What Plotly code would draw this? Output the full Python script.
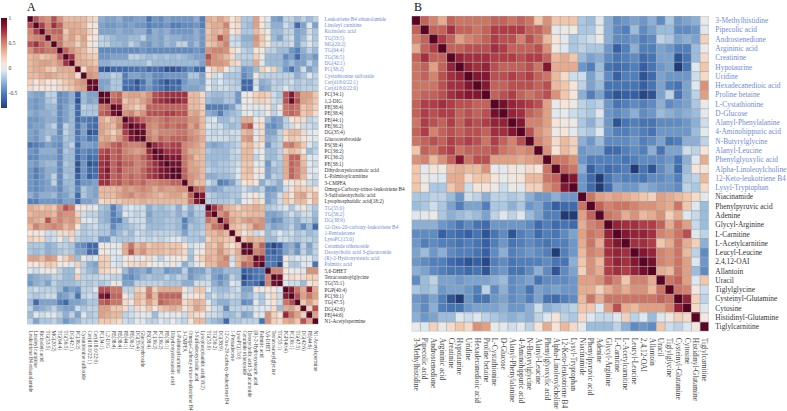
import plotly.graph_objects as go

A_LABELS = ["Leukotriene B4 ethanolamide","Linoleyl carnitine","Ricinoleic acid","TG(53:5)","MG(20:2)","TG(64:4)","TG(56:5)","DG(42:1)","PC(38:2)","Cystathionine sulfoxide","Cer(d18:0/22:1)","Cer(d18:0/22:0)","PC(34:1)","1,2-DIG","PE(38:4)","PE(38:4)","PE(44:1)","PE(36:2)","DG(35:4)","Glucocerebroside","PS(38:4)","PC(36:2)","PC(36:2)","PE(38:1)","Dihydroxyeicosanoic acid","L-Palmitoylcarnitine","3-CMPFA","Omega-Carboxy-trinor-leukotriene B4","3-Sulfodeoxycholic acid","Lysophosphatidic acid(18:2)","TG(55:0)","TG(56:2)","DG(38:9)","12-Oxo-20-carboxy-leukotriene B4","1-Pentadecene","LysoPC(15:0)","Ceramide trihexoside","Deoxycholic acid 3-glucuronide","(R)-2-Hydroxystearic acid","Palmitic acid","5,6-DHET","Tetracosanoylglycine","TG(55:1)","PGP(40:4)","PC(36:1)","TG(47:5)","DG(42:6)","PE(44:6)","N1-Acetylspermine"]
A_BLUE = list(range(0, 12)) + list(range(30, 40))

B_LABELS = ["3-Methylhistidine","Pipecolic acid","Androstenedione","Argininic acid","Creatinine","Hypotaurine","Uridine","Hexadecanedioic acid","Proline betaine","L-Cystathionine","D-Glucose","Alanyl-Phenylalanine","4-Aminohippuric acid","N-Butyrylglycine","Alanyl-Leucine","Phenylglyoxylic acid","Alpha-Linoleoylcholine","12-Keto-leukotriene B4","Lysyl-Tryptophan","Niacinamide","Phenylpyruvic acid","Adenine","Glycyl-Arginine","L-Carnitine","L-Acetylcarnitine","Leucyl-Leucine","2,4,12-OAI","Allantoin","Uracil","Tiglylglycine","Cysteinyl-Glutamine","Cytosine","Histidinyl-Glutamine","Tiglylcarnitine"]
B_BLUE = list(range(0, 19))

# Upper triangles of the correlation matrices, in hundredths, row by row
A_UPPER = [
[100,65,50,45,65,45,30,30,30,30,20,15, -30,-35,-35,-30,-40,-40,-35,-35,-55,-40,-45,-35,-40,-40,-40,-40,-30,-50, 35,30,40,30,10,20,-20,-20,40,10,-5,-35,-40,-15,-15,-25,-15,-25,-15],
[100,70,50,75,60,35,35,35,30,10,5, -35,-40,-40,-35,-40,-35,-40,-40,-50,-45,-45,-40,-50,-50,-45,-45,-40,-50, 30,35,35,50,10,15,-20,-25,40,10,-10,-30,-30,-10,-20,-60,-35,-5,-35],
[100,55,60,60,25,40,35,35,20,10, -35,-35,-35,-30,-35,-35,-30,-30,-45,-30,-35,-30,-40,-40,-40,-40,-30,-40, 25,35,30,40,5,15,-20,-20,30,15,0,-25,-25,-15,-15,-35,-30,-10,-20],
[100,50,55,30,40,25,40,10,10, -15,-20,-25,-30,-30,-25,-25,-15,-35,-30,-35,-25,-30,-30,-35,-35,-30,-40, 30,35,65,45,-10,-15,-30,-30,45,25,5,-25,-35,-15,-10,-35,-25,-5,-20],
[100,55,35,35,20,35,10,0, -15,-15,-25,-25,-30,-15,-25,-35,-40,-30,-35,-25,-30,-15,-15,-35,-25,-40, 25,30,40,50,-10,-10,-25,-25,40,20,5,-15,-15,-15,-10,-35,-15,-5,-15],
[100,60,45,35,30,15,15, -45,-45,-45,-45,-45,-45,-45,-40,-45,-45,-45,-45,-45,-45,-45,-45,-40,-45, 45,50,50,45,15,5,-15,-20,10,5,-15,-15,-25,-25,-40,-50,-30,-15,-25],
[100,75,35,30,25,20, -40,-40,-35,-35,-35,-15,-15,-20,-25,-20,-25,-20,-25,-20,-25,-30,-35,-35, 65,45,40,30,15,-15,-15,-15,20,5,-25,-25,-25,-45,-35,-60,-35,-30,-40],
[100,35,35,30,25, -30,-30,-25,-25,-25,-25,-25,-25,-15,-25,-25,-25,-25,-25,-25,-25,-25,-35, 55,45,45,40,20,15,-20,-20,35,-5,-25,-25,-25,-35,-25,-35,-35,-15,-30],
[100,15,40,35, -65,-70,-60,-60,-60,-55,-55,-50,-60,-55,-60,-70,-70,-65,-55,-45,-60,-60, 5,20,30,10,-10,-15,-40,-35,-25,20,5,20,-20,-40,-55,-35,-10,-35,-25],
[100,45,40, -25,-25,-15,-20,-50,-35,-35,-40,-35,-45,-45,-40,-40,-40,-40,-20,-20,-35, 10,-10,-5,-20,-20,-20,-45,-35,5,-15,-15,-15,-15,-15,-15,-30,-20,-5,-15],
[100,90, -35,-35,-20,-20,-55,-55,-70,-55,-35,-50,-60,-70,-60,-65,-40,-30,-30,-35, -5,-15,-5,-15,-15,-20,-60,-60,-10,-30,-25,-15,-20,-15,-10,-20,-15,-20,-15],
[100, -35,-30,-20,-20,-60,-60,-65,-50,-40,-50,-55,-65,-60,-55,-35,-35,-35,-30, 0,-15,-10,-10,-15,-15,-60,-60,-5,-35,-30,-15,-15,-5,-15,-20,-15,-15,-15],
[100,95,55,60,35,40,40,35,45,65,70,75,75,75,75,30,30,15, -20,-25,-25,-20,-20,-40,0,5,20,25,20,-10,-20,65,85,60,40,40,25],
[100,60,65,25,35,30,40,50,70,75,80,85,80,75,30,30,20, -25,-30,-30,-20,-20,-40,0,5,20,20,15,-10,-15,65,95,65,40,35,25],
[100,90,35,30,20,30,60,60,60,60,60,60,60,30,30,20, -50,-50,-50,-45,-35,-15,0,-5,-5,-5,10,-15,5,55,60,55,25,30,20],
[100,45,50,35,45,65,65,65,70,70,65,65,35,40,25, -30,-35,-50,-30,-25,-20,-5,0,-10,-10,5,-15,-5,55,60,55,25,30,15],
[100,80,70,60,55,50,55,60,55,55,55,45,45,30, -10,-5,-25,-25,-15,-20,35,35,0,5,-25,-40,-35,-15,10,15,15,-15,-10],
[100,90,85,50,45,55,60,55,60,60,40,50,30, -5,-10,-10,-20,-25,-20,55,65,10,15,-40,-45,-35,-15,-10,10,-10,-10,-15],
[100,95,50,40,50,50,50,55,55,45,40,30, -10,-15,-10,-15,-10,-10,30,35,-5,15,-35,-35,-15,20,30,30,15,-5,0],
[100,55,45,60,55,60,60,60,50,45,35, -10,-10,-10,-10,-15,-10,40,45,0,20,-30,-25,-15,15,25,20,10,0,-5],
[100,78,72,65,70,70,50,45,40,30, -30,-35,-30,-25,-20,-15,25,30,15,5,-40,-20,-15,50,55,40,25,-5,-15],
[100,90,75,75,75,50,35,35,30, -20,-25,-25,-25,-15,-10,30,30,-5,0,-25,-25,-15,20,30,25,5,-25,-15],
[100,88,85,85,55,45,30,30, -25,-25,-25,-25,-15,-15,30,30,-15,0,-25,-25,-15,35,60,60,25,-5,-5],
[100,90,90,55,40,35,30, -20,-25,-20,-20,-15,-10,25,25,0,-5,-40,-15,-20,35,60,55,30,0,-10],
[100,97,60,40,40,30, -15,-20,-20,-20,-15,-5,25,30,5,10,-35,-25,-20,35,60,50,35,-5,0],
[100,60,45,40,30, -30,-30,-25,-25,-20,-5,25,25,5,-5,-35,-15,-20,35,60,50,30,0,-10],
[100,45,30,30, -10,-20,-50,-45,-35,-15,10,15,10,-30,-15,-20,-30,10,0,15,10,-10,-15],
[100,60,55, -30,-35,-30,-20,-20,-20,-10,-20,-25,-15,-40,-40,-30,-10,10,25,20,20,10],
[100,85, -15,-20,-25,-25,-20,-20,-5,0,10,-5,-35,-30,-10,25,10,35,40,15,30],
[100, -15,-20,-20,-20,-15,-25,0,5,20,10,-35,-25,-10,25,15,30,30,10,30],
[100,75,55,35,30,20,30,30,35,30,-20,-15,-10,-5,-20,-5,10,-10,-20],
[100,45,55,30,30,25,30,30,30,-35,-35,-30,-20,-10,-20,-10,-10,-25],
[100,60,40,30,40,45,40,45,-35,-45,-40,-25,-20,-30,-15,-15,-30],
[100,30,25,20,30,50,45,-25,-35,-30,-25,-15,-30,-45,-25,-60],
[100,25,10,20,-10,-5,-25,-15,-5,-15,-10,-20,-15,-25,-20],
[100,25,35,30,30,-25,-25,-10,-10,-15,-20,-15,-15,-20],
[100,95,40,60,-65,-75,-65,-35,-30,-45,-15,-35,-15],
[100,50,55,-60,-65,-55,-35,-25,-40,-15,-30,-15],
[100,85,-55,-55,-60,10,-10,-5,-5,-5,-15],
[100,-50,-55,-75,0,-20,-20,-5,-5,-55],
[100,50,50,10,0,0,-5,45,45],
[100,90,5,15,10,15,20,20],
[100,-5,-10,-10,-25,10,15],
[100,85,55,35,80,35],
[100,65,40,55,40],
[100,25,40,25],
[100,20,65],
[100,40],
[100],
]

B_UPPER = [
[100,60,50,35,60,55,55,55,55,60,60,55,60,55,25,45,25,25,25, -20,-25,-5,-30,-45,-40,-35,-40,-30,-45,-20,-40,-35,-30,0],
[100,60,60,75,60,60,55,60,70,70,70,70,60,60,50,-3,0,5, -20,-20,-2,-30,-45,-50,-25,-45,-35,-25,-25,-45,-45,-40,-5],
[100,70,60,40,50,55,60,70,65,65,50,65,55,30,10,-3,-20, -15,-10,0,-30,-45,-45,-40,-50,-45,-15,-20,-35,-30,-35,20],
[100,60,60,65,65,65,75,70,60,60,60,65,45,5,-5,-20, -15,-20,-20,-40,-65,-50,-30,-50,-50,-35,-40,-50,-50,-25,0],
[100,80,75,75,75,70,70,70,65,70,70,60,30,35,25, -25,-35,-30,-45,-55,-50,-45,-60,-55,-35,-35,-70,-55,-25,15],
[100,80,75,80,65,60,60,60,65,55,85,35,35,35, -40,-50,-25,-55,-60,-55,-50,-65,-55,-40,-35,-80,-55,-5,25],
[100,85,85,65,65,70,65,70,60,55,30,15,-10, -10,-35,-20,-45,-65,-50,-50,-70,-60,-35,-40,-40,-40,-10,15],
[100,85,60,60,65,65,65,60,65,30,25,10, -15,-35,-25,-55,-55,-55,-55,-65,-55,-35,-50,-55,-35,-5,45],
[100,60,65,70,60,55,60,65,45,25,10, -30,-50,-35,-60,-70,-65,-65,-75,-70,-35,-15,-55,-35,-15,40],
[100,90,80,75,70,65,40,0,10,2, -15,-20,-15,-40,-55,-50,-45,-50,-45,-30,-45,-40,-35,-20,0],
[100,80,75,60,55,40,-3,0,-10, -15,-20,-5,-40,-45,-40,-30,-45,-40,-25,-30,-35,-30,-25,-3],
[100,85,50,50,40,10,5,2, -20,-30,-15,-40,-70,-55,-50,-55,-55,-45,-45,-45,-40,-30,-10],
[100,65,45,35,2,10,-3, -15,-20,-5,-40,-50,-50,-45,-50,-55,-40,-40,-40,-40,-25,-3],
[100,50,40,15,30,20, -30,-40,-25,-45,-45,-45,-40,-50,-45,-35,-55,-50,-30,-30,-15],
[100,45,10,30,20, -40,-35,-35,-60,-60,-50,-45,-50,-30,-55,-35,-35,-10,-15,10],
[100,55,55,45, -40,-50,-50,-50,-50,-55,-50,-45,-45,-45,-40,-55,-30,-5,35],
[100,60,55, -30,-65,-50,-60,-55,-50,-85,-55,-70,-45,-35,-60,-25,10,10],
[100,85, -40,-60,-85,-55,-45,-50,-50,-55,-45,-45,-40,-50,-20,-15,30],
[100, -40,-60,-80,-60,-35,-40,-40,-30,-35,-40,-40,-45,-15,-20,15],
[100,55,40,35,40,35,30,25,20,40,35,30,25,15,-2],
[100,60,50,55,55,50,45,45,40,35,55,25,-5,-25],
[100,55,50,35,45,30,35,45,20,35,-5,-12,-25],
[100,80,75,75,70,70,60,35,55,40,-12,-25],
[100,85,80,80,75,50,45,55,65,-5,-15],
[100,75,75,70,25,35,55,35,20,-30],
[100,85,80,50,45,55,30,-15,-45],
[100,90,50,45,55,40,-5,-40],
[100,35,30,55,40,-25,-45],
[100,55,60,40,-5,25],
[100,55,50,5,-10],
[100,80,20,-15],
[100,15,-5],
[100,5],
[100],
]

COLOR_VALUES = [-0.8,-0.65,-0.5,-0.35,-0.2,-0.05,0,0.1,0.25,0.4,0.55,0.7,0.85,1]
COLOR_HEX = ["#1f3c78","#3560a8","#4f7fbd","#7ba3d0","#aac8e3","#dde7ef","#e9e9e9","#f6e4d8","#f2c6ab","#e29f82","#cd7462","#b23c45","#861530","#5a0423"]
CBAR_TICKS = [1,0.5,0,-0.5]

W, H = 787, 411
BLUE = "#6f8cd8"
DARK = "#333333"

def full_matrix(upper):
    n = len(upper)
    m = [[0.0]*n for _ in range(n)]
    for i, row in enumerate(upper):
        for k, v in enumerate(row):
            m[i][i+k] = v/100
            m[i+k][i] = v/100
    return m

def colored(labels, blue):
    return [f'<span style="color:{BLUE if i in blue else DARK}">{t}</span>' for i, t in enumerate(labels)]

def panel(fig, upper, labels, blue, xa, ya, box, fs):
    n = len(labels)
    idx = list(range(n))
    fig.add_trace(go.Heatmap(z=full_matrix(upper), x=idx, y=idx, coloraxis="coloraxis",
                             xaxis=xa, yaxis=ya, hoverinfo="skip"))
    l, r, t, b = box
    common = dict(showgrid=False, zeroline=False, showline=False, ticks="outside", ticklen=4,
                  tickcolor="rgba(0,0,0,0)", tickmode="array", tickvals=idx)
    fig.update_layout(**{
        ("xaxis" if xa == "x" else "xaxis"+xa[1:]): dict(common, domain=[l/W, r/W], anchor=ya, side="bottom",
            range=[-0.5, n-0.5], ticktext=labels, tickangle=90, tickfont=dict(size=fs, color="#444444")),
        ("yaxis" if ya == "y" else "yaxis"+ya[1:]): dict(common, domain=[1-b/H, 1-t/H], anchor=xa, side="right",
            range=[n-0.5, -0.5], ticktext=colored(labels, blue), tickfont=dict(size=fs)),
    })
    # thin grey cell borders, one per cell edge
    edges = [i-0.5 for i in range(n+1)]
    line = dict(color="#a9a9a9", width=0.7)
    for e in edges:
        fig.add_shape(type="line", xref=xa, yref=ya, x0=e, x1=e, y0=-0.5, y1=n-0.5, line=line)
        fig.add_shape(type="line", xref=xa, yref=ya, x0=-0.5, x1=n-0.5, y0=e, y1=e, line=line)

fig = go.Figure()
panel(fig, A_UPPER, A_LABELS, A_BLUE, "x", "y", (27.3, 319.3, 16, 326), 5.2)
panel(fig, B_UPPER, B_LABELS, B_BLUE, "x2", "y2", (412.7, 710.7, 16, 333), 7.4)

span = COLOR_VALUES[-1]-COLOR_VALUES[0]
fig.update_layout(
    width=W, height=H, margin=dict(l=0, r=0, t=0, b=0), autosize=False,
    paper_bgcolor="white", plot_bgcolor="white",
    font=dict(family="Liberation Serif", color=DARK),
    coloraxis=dict(cmin=COLOR_VALUES[0], cmax=COLOR_VALUES[-1],
        colorscale=[[(v-COLOR_VALUES[0])/span, c] for v, c in zip(COLOR_VALUES, COLOR_HEX)],
        colorbar=dict(x=1/W, xanchor="left", y=1-18/H, yanchor="top", lenmode="pixels", len=90,
                      thicknessmode="pixels", thickness=6, outlinewidth=0, xpad=0, ypad=0,
                      tickvals=CBAR_TICKS, ticktext=["1","0.5","0","-0.5"], ticks="", ticklabelposition="outside",
                      tickfont=dict(size=5.5, color="#444444"))),
    annotations=[
        dict(text="A", x=32/W, y=1-7.5/H, xref="paper", yref="paper", xanchor="center", yanchor="middle", showarrow=False, borderpad=0, font=dict(size=12, color="#111111")),
        dict(text="B", x=419/W, y=1-7.5/H, xref="paper", yref="paper", xanchor="center", yanchor="middle", showarrow=False, borderpad=0, font=dict(size=12, color="#111111")),
    ],
)
fig.write_html("out.html", post_script="document.body.style.margin='0';", config=dict(displayModeBar=False))
